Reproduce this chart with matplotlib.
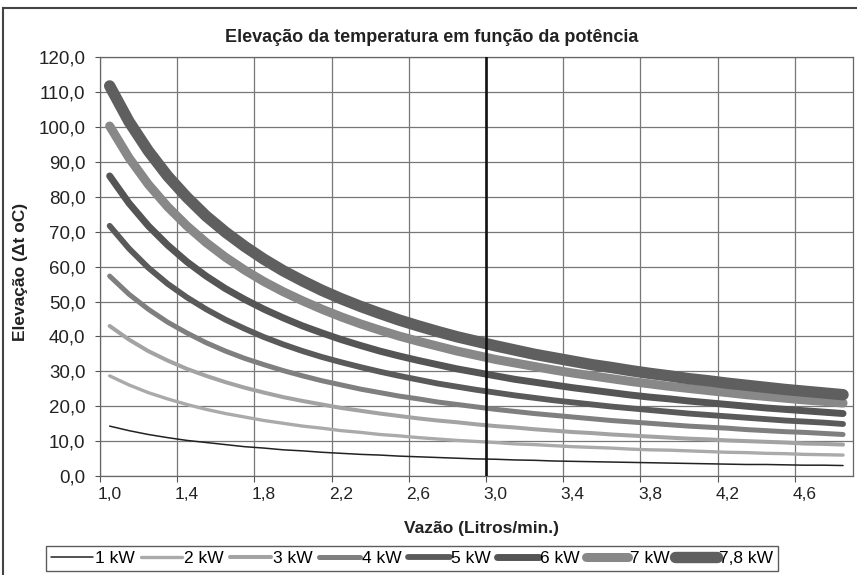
import matplotlib
matplotlib.use('Agg')
import matplotlib.pyplot as plt
from matplotlib.lines import Line2D
from matplotlib.ticker import FuncFormatter, FixedLocator

plt.rcParams['font.family'] = ['Liberation Sans', 'DejaVu Sans']

# flow (L/min), one category every 0.1
vazao = [1.0, 1.1, 1.2, 1.3, 1.4, 1.5, 1.6, 1.7, 1.8, 1.9,
         2.0, 2.1, 2.2, 2.3, 2.4, 2.5, 2.6, 2.7, 2.8, 2.9,
         3.0, 3.1, 3.2, 3.3, 3.4, 3.5, 3.6, 3.7, 3.8, 3.9,
         4.0, 4.1, 4.2, 4.3, 4.4, 4.5, 4.6, 4.7, 4.8]

# temperature rise (delta t oC)
kw1 = [14.3, 13.0, 11.9, 11.0, 10.2, 9.6, 9.0, 8.4, 8.0, 7.5,
       7.2, 6.8, 6.5, 6.2, 6.0, 5.7, 5.5, 5.3, 5.1, 4.9,
       4.8, 4.6, 4.5, 4.3, 4.2, 4.1, 4.0, 3.9, 3.8, 3.7,
       3.6, 3.5, 3.4, 3.3, 3.3, 3.2, 3.1, 3.1, 3.0]
kw2 = [28.7, 26.1, 23.9, 22.1, 20.5, 19.1, 17.9, 16.9, 15.9, 15.1,
       14.3, 13.7, 13.0, 12.5, 11.9, 11.5, 11.0, 10.6, 10.2, 9.9,
       9.6, 9.2, 9.0, 8.7, 8.4, 8.2, 8.0, 7.7, 7.5, 7.4,
       7.2, 7.0, 6.8, 6.7, 6.5, 6.4, 6.2, 6.1, 6.0]
kw3 = [43.0, 39.1, 35.8, 33.1, 30.7, 28.7, 26.9, 25.3, 23.9, 22.6,
       21.5, 20.5, 19.5, 18.7, 17.9, 17.2, 16.5, 15.9, 15.4, 14.8,
       14.3, 13.9, 13.4, 13.0, 12.6, 12.3, 11.9, 11.6, 11.3, 11.0,
       10.7, 10.5, 10.2, 10.0, 9.8, 9.6, 9.3, 9.2, 9.0]
kw4 = [57.3, 52.1, 47.8, 44.1, 41.0, 38.2, 35.8, 33.7, 31.9, 30.2,
       28.7, 27.3, 26.1, 24.9, 23.9, 22.9, 22.1, 21.2, 20.5, 19.8,
       19.1, 18.5, 17.9, 17.4, 16.9, 16.4, 15.9, 15.5, 15.1, 14.7,
       14.3, 14.0, 13.7, 13.3, 13.0, 12.7, 12.5, 12.2, 11.9]
kw5 = [71.7, 65.2, 59.7, 55.1, 51.2, 47.8, 44.8, 42.2, 39.8, 37.7,
       35.8, 34.1, 32.6, 31.2, 29.9, 28.7, 27.6, 26.5, 25.6, 24.7,
       23.9, 23.1, 22.4, 21.7, 21.1, 20.5, 19.9, 19.4, 18.9, 18.4,
       17.9, 17.5, 17.1, 16.7, 16.3, 15.9, 15.6, 15.3, 14.9]
kw6 = [86.0, 78.2, 71.7, 66.2, 61.4, 57.3, 53.7, 50.6, 47.8, 45.3,
       43.0, 41.0, 39.1, 37.4, 35.8, 34.4, 33.1, 31.9, 30.7, 29.7,
       28.7, 27.7, 26.9, 26.1, 25.3, 24.6, 23.9, 23.2, 22.6, 22.1,
       21.5, 21.0, 20.5, 20.0, 19.5, 19.1, 18.7, 18.3, 17.9]
kw7 = [100.3, 91.2, 83.6, 77.2, 71.7, 66.9, 62.7, 59.0, 55.7, 52.8,
       50.2, 47.8, 45.6, 43.6, 41.8, 40.1, 38.6, 37.2, 35.8, 34.6,
       33.4, 32.4, 31.4, 30.4, 29.5, 28.7, 27.9, 27.1, 26.4, 25.7,
       25.1, 24.5, 23.9, 23.3, 22.8, 22.3, 21.8, 21.4, 20.9]
kw78 = [111.8, 101.6, 93.2, 86.0, 79.9, 74.5, 69.9, 65.8, 62.1, 58.8,
        55.9, 53.2, 50.8, 48.6, 46.6, 44.7, 43.0, 41.4, 39.9, 38.6,
        37.3, 36.1, 34.9, 33.9, 32.9, 31.9, 31.1, 30.2, 29.4, 28.7,
        27.9, 27.3, 26.6, 26.0, 25.4, 24.8, 24.3, 23.8, 23.3]

series = [kw1, kw2, kw3, kw4, kw5, kw6, kw7, kw78]
nomes = ['1 kW', '2 kW', '3 kW', '4 kW', '5 kW', '6 kW', '7 kW', '7,8 kW']
cores = ['#222222', '#aaaaaa', '#a3a3a3', '#7f7f7f', '#5a5a5a', '#555555', '#888888', '#5f5f5f']
larguras = [1.1, 2.4, 2.9, 3.6, 4.2, 5.0, 6.5, 8.2]

fig = plt.figure(figsize=(8.57, 5.75), dpi=100)
ax = fig.add_axes([100/857, 99/575, 752.7/857, 418.7/575])

for y, nome, cor, lw in zip(series, nomes, cores, larguras):
    ax.plot(vazao, y, color=cor, lw=lw, label=nome, solid_capstyle='round', solid_joinstyle='round')

# marker line near 3,0
ax.axvline(2.95, color='#111111', lw=1.9, zorder=5)

ax.set_xlim(0.95, 4.85)
ax.set_ylim(0, 120)

# excel category axis: gridlines between categories, labels on categories
grid_x = [0.95 + 0.4 * i for i in range(10)]
ax.xaxis.set_major_locator(FixedLocator(grid_x))
ax.xaxis.set_major_formatter(FuncFormatter(lambda v, p: ''))
rot_x = [1.0 + 0.4 * i for i in range(10)]
ax.xaxis.set_minor_locator(FixedLocator(rot_x))
ax.xaxis.set_minor_formatter(FuncFormatter(lambda v, p: f'{v:.1f}'.replace('.', ',')))
ax.tick_params(axis='x', which='major', length=4.5, width=0.8, color='#555555', direction='out')
ax.tick_params(axis='x', which='minor', length=0, pad=8, labelsize=12.5, labelcolor='#222222')

ax.set_yticks(range(0, 121, 10))
ax.yaxis.set_major_formatter(FuncFormatter(lambda v, p: f'{v:.1f}'.replace('.', ',')))
ax.tick_params(axis='y', length=3.5, width=0.8, color='#555555', direction='out', pad=7,
               labelsize=13.5, labelcolor='#222222')

ax.grid(True, which='major', color='#777777', lw=0.9)
ax.set_axisbelow(True)
for s in ax.spines.values():
    s.set_color('#666666')
    s.set_linewidth(0.9)

fig.text(432/857, 1 - 38/575, 'Elevação da temperatura em função da potência',
         ha='center', va='center', fontsize=13, fontweight='bold', color='#222222')
fig.text(481/857, 1 - 528/575, 'Vazão (Litros/min.)', ha='center', va='center',
         fontsize=12.5, fontweight='bold', color='#222222')
fig.text(21/857, 1 - 272/575, 'Elevação (Δt oC)', ha='center', va='center', rotation=90,
         fontsize=12.5, fontweight='bold', color='#222222')

leg = fig.legend(loc='center', bbox_to_anchor=(412/857, 1 - 558.5/575), ncol=8,
                 fontsize=12.5, frameon=True, fancybox=False, handlelength=2.4,
                 handletextpad=0.1, columnspacing=0.35, borderpad=0.3, borderaxespad=0)
leg.get_frame().set_edgecolor('#333333')
leg.get_frame().set_linewidth(1.0)

# outer chart border (top and left only visible)
fig.add_artist(Line2D([3/857, 1.0], [1 - 7.5/575, 1 - 7.5/575], color='#444444', lw=1.5,
                      transform=fig.transFigure))
fig.add_artist(Line2D([3/857, 3/857], [0.0, 1 - 7.5/575], color='#444444', lw=1.5,
                      transform=fig.transFigure))

plt.savefig('out.png', dpi=100)
plt.close()
